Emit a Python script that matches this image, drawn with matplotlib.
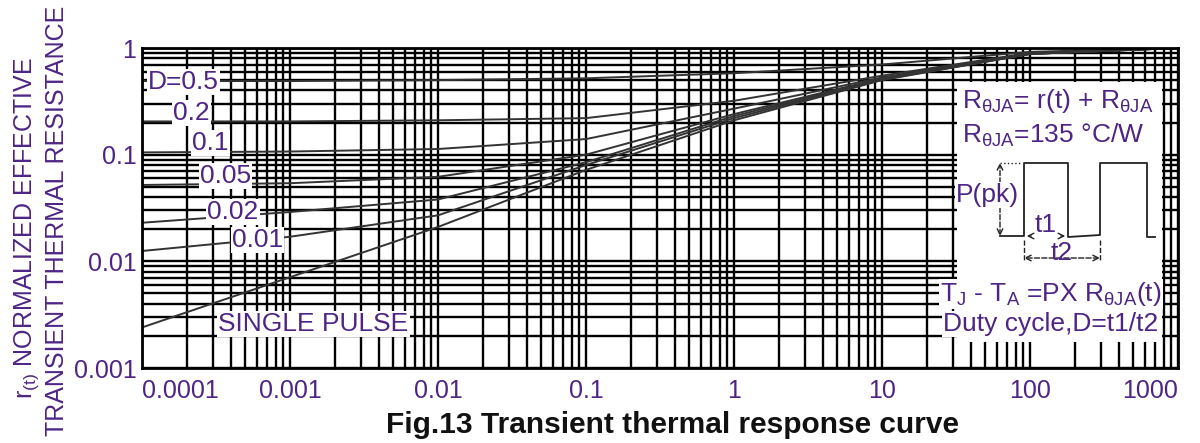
import numpy as np
import matplotlib
matplotlib.use("Agg")
import matplotlib.pyplot as plt
from matplotlib.ticker import LogLocator, NullFormatter
from matplotlib.transforms import Affine2D
from matplotlib.patches import Rectangle

plt.rcParams['font.family'] = ['Liberation Sans', 'DejaVu Sans']
plt.rcParams['mathtext.fontset'] = 'custom'
plt.rcParams['mathtext.rm'] = 'Liberation Sans'
plt.rcParams['mathtext.it'] = 'Liberation Sans:italic'

# pulse time t (s)
t = [1e-4, 1e-3, 1e-2, 1e-1, 1, 10, 100, 1000]

r_d050 = [0.49, 0.49, 0.50, 0.52, 0.58, 0.70, 0.92, 1.0]
r_d020 = [0.205, 0.205, 0.21, 0.22, 0.32, 0.55, 0.90, 1.0]
r_d010 = [0.105, 0.107, 0.113, 0.14, 0.27, 0.53, 0.89, 1.0]
r_d005 = [0.052, 0.054, 0.062, 0.10, 0.24, 0.52, 0.88, 1.0]
r_d002 = [0.023, 0.029, 0.038, 0.085, 0.23, 0.51, 0.88, 1.0]
r_d001 = [0.0125, 0.017, 0.027, 0.080, 0.22, 0.505, 0.88, 1.0]
r_single = [0.0024, 0.0071, 0.021, 0.072, 0.21, 0.50, 0.88, 1.0]

curves = [r_d050, r_d020, r_d010, r_d005, r_d002, r_d001, r_single]

x_ticks = [1e-4, 1e-3, 1e-2, 1e-1, 1, 10, 100, 1000]
x_labels = ["0.0001", "0.001", "0.01", "0.1", "1", "10", "100", "1000"]
y_ticks = [0.001, 0.01, 0.1, 1]
y_labels = ["0.001", "0.01", "0.1", "1"]

ink = '#4e2585'

fig = plt.figure(figsize=(12, 4.43), dpi=100)
ax = fig.add_axes([142/1200, 75/443, 1036/1200, 320/443])
# image pixel coordinates (origin top left) for the annotations
px = Affine2D().scale(1/1200, -1/443).translate(0, 1) + fig.transFigure

for r in curves:
    ax.plot(t, r, color='#333333', lw=1.4, zorder=2)

ax.set_xscale('log')
ax.set_yscale('log')
ax.set_xlim(1e-4, 1000)
ax.set_ylim(0.001, 1)

ax.xaxis.set_minor_locator(LogLocator(base=10, subs=np.arange(2, 10), numticks=100))
ax.yaxis.set_minor_locator(LogLocator(base=10, subs=np.arange(2, 10), numticks=100))
ax.xaxis.set_minor_formatter(NullFormatter())
ax.yaxis.set_minor_formatter(NullFormatter())
ax.set_xticks(x_ticks)
ax.set_xticklabels(x_labels)
ax.set_yticks(y_ticks)
ax.set_yticklabels(y_labels)
ax.tick_params(which='both', length=0, labelsize=18, labelcolor=ink)
ax.tick_params(axis='x', pad=8)
ax.tick_params(axis='y', pad=4)
xl = ax.get_xticklabels()
xl[0].set_horizontalalignment('left')
xl[0].set_x(1e-4)
xl[-1].set_horizontalalignment('right')

ax.grid(True, which='both', color='black', lw=1.7)
for s in ax.spines.values():
    s.set_linewidth(2)

# curve labels
box = dict(facecolor='white', edgecolor='none', pad=1)
lab_kw = dict(transform=px, fontsize=19, color=ink, va='center', ha='left', bbox=box, zorder=5)
ax.text(148, 82, "D=0.5", **lab_kw)
ax.text(173, 113, "0.2", **lab_kw)
ax.text(192, 143, "0.1", **lab_kw)
ax.text(200, 176, "0.05", **lab_kw)
ax.text(207, 212, "0.02", **lab_kw)
ax.text(232, 240, "0.01", **lab_kw)
ax.text(218, 324, "SINGLE PULSE", **lab_kw)

# inset with the formulas and the pulse sketch
ax.add_patch(Rectangle((957, 82), 205, 260, transform=px, facecolor='white',
                       edgecolor='none', zorder=3, clip_on=False))
ax.text(962, 101, r"R$_{\mathrm{\theta JA}}$= r(t) + R$_{\mathrm{\theta JA}}$", **lab_kw)
ax.text(962, 135, r"R$_{\mathrm{\theta JA}}$=135 °C/W", **lab_kw)
ax.text(956, 195, "P(pk)", **lab_kw)
ax.text(940, 294, r"T$_{\mathrm{J}}$ - T$_{\mathrm{A}}$ =PX R$_{\mathrm{\theta JA}}$(t)", **lab_kw)
ax.text(943, 324, "Duty cycle,D=t1/t2", **lab_kw)
ax.text(1046, 225, "t1", transform=px, fontsize=19, color=ink, ha='center', va='center', zorder=5)
ax.text(1062, 253, "t2", transform=px, fontsize=19, color=ink, ha='center', va='center', zorder=5)

wave_x = [1000, 1024, 1024, 1068, 1068, 1100, 1100, 1147, 1147, 1155]
wave_y = [236, 236, 163, 163, 237, 235, 163, 163, 237, 237]
ax.plot(wave_x, wave_y, transform=px, color='#222222', lw=1.3, zorder=4, clip_on=False)
ax.plot([1000, 1022], [163, 163], transform=px, color='#222222', lw=1, ls=':', zorder=4, clip_on=False)
arr = dict(arrowstyle='<->', color='#222222', lw=1, ls='--', shrinkA=0, shrinkB=0)
ax.annotate("", xy=(1000, 163), xytext=(1000, 236), xycoords=px, textcoords=px, arrowprops=arr, zorder=4)
ax.annotate("", xy=(1024, 258), xytext=(1100, 258), xycoords=px, textcoords=px, arrowprops=arr, zorder=4)
ax.plot([1024, 1024], [240, 262], transform=px, color='#222222', lw=1, ls='--', zorder=4, clip_on=False)
ax.plot([1100, 1100], [240, 262], transform=px, color='#222222', lw=1, ls='--', zorder=4, clip_on=False)
ax.annotate("", xy=(1024, 236), xytext=(1034, 236), xycoords=px, textcoords=px,
            arrowprops=dict(arrowstyle='->', color='#222222', lw=1), zorder=4)
ax.annotate("", xy=(1068, 236), xytext=(1058, 236), xycoords=px, textcoords=px,
            arrowprops=dict(arrowstyle='->', color='#222222', lw=1), zorder=4)

# axis titles
fig.text(27, 228, r"r$_{\mathrm{(t)}}$ NORMALIZED EFFECTIVE", transform=px, rotation=90,
         fontsize=18, color=ink, ha='center', va='center')
fig.text(57, 221, "TRANSIENT THERMAL RESISTANCE", transform=px, rotation=90,
         fontsize=18, color=ink, ha='center', va='center')
fig.text(672, 425, "Fig.13 Transient thermal response curve", transform=px,
         fontsize=21.5, fontweight='bold', color='#111111', ha='center', va='center')

fig.savefig("out.png", dpi=100)
